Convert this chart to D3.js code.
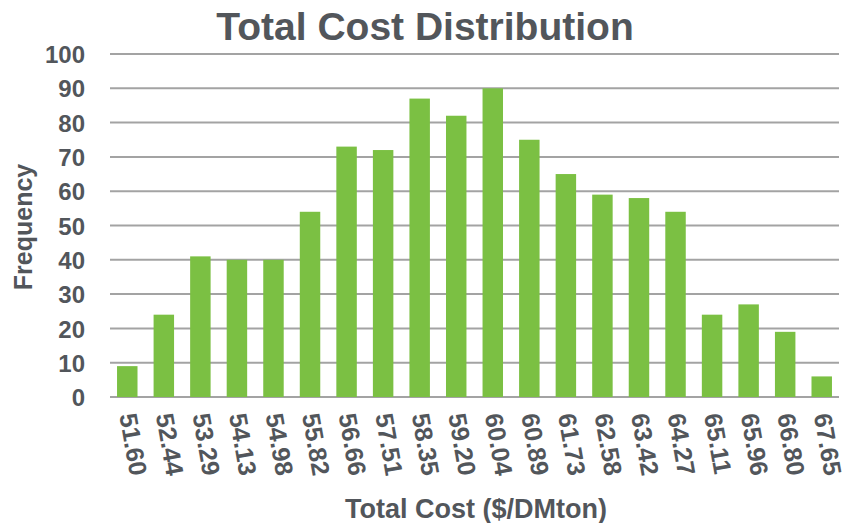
<!DOCTYPE html>
<html>
<head>
<meta charset="utf-8">
<script src="https://cdn.jsdelivr.net/npm/d3@7"></script>
<style>
  body { margin: 0; background: #fff; }
  text { font-family: "Liberation Sans", Arial, sans-serif; font-weight: bold; fill: #52565b; }
</style>
</head>
<body>
<div id="chart"></div>
<script>
// histogram bins and counts
var binLabels = ['51.60', '52.44', '53.29', '54.13', '54.98', '55.82', '56.66', '57.51', '58.35', '59.20',
                 '60.04', '60.89', '61.73', '62.58', '63.42', '64.27', '65.11', '65.96', '66.80', '67.65'];
var frequency = [9, 24, 41, 40, 40, 54, 73, 72, 87, 82, 90, 75, 65, 59, 58, 54, 24, 27, 19, 6];
var yTicks = [0, 10, 20, 30, 40, 50, 60, 70, 80, 90, 100];

var width = 848, height = 523;
var plot = {left: 109, right: 840, top: 54, bottom: 397};

var svg = d3.select('#chart')
  .append('svg')
    .attr('width', width)
    .attr('height', height);

// scales
var x = d3.scaleBand()
  .domain(binLabels)
  .range([plot.left, plot.right])
  .paddingInner(0.44)
  .paddingOuter(0.22);

var y = d3.scaleLinear()
  .domain([0, 100])
  .range([plot.bottom, plot.top]);

// gridlines
svg.append('g')
  .selectAll('line')
  .data(yTicks)
  .enter()
  .append('line')
    .attr('x1', plot.left + 1)
    .attr('x2', plot.right - 1)
    .attr('y1', function(d) { return y(d); })
    .attr('y2', function(d) { return y(d); })
    .attr('stroke', '#a3a3a3')
    .attr('stroke-width', 2);

// y axis labels
var yAxis = svg.append('g')
  .attr('transform', 'translate(' + (plot.left - 24) + ',0)')
  .call(d3.axisLeft(y).tickValues(yTicks).tickSize(0).tickPadding(0));
yAxis.select('.domain').remove();
yAxis.selectAll('text')
  .attr('font-size', 24)
  .attr('dy', '0.36em')
  .style('font-family', '"Liberation Sans", Arial, sans-serif')
  .style('font-weight', 'bold')
  .style('fill', '#52565b');

// bars
svg.append('g')
  .selectAll('rect')
  .data(frequency)
  .enter()
  .append('rect')
    .attr('x', function(d, i) { return x(binLabels[i]); })
    .attr('y', function(d) { return y(d); })
    .attr('width', x.bandwidth())
    .attr('height', function(d) { return y(0) - y(d); })
    .attr('fill', '#7bc043');

// x axis labels (slanted, nearly vertical)
svg.append('g')
  .selectAll('text')
  .data(binLabels)
  .enter()
  .append('text')
    .attr('transform', function(d) {
      return 'translate(' + (x(d) + x.bandwidth() / 2 - 8) + ',415) rotate(80)';
    })
    .attr('text-anchor', 'start')
    .attr('font-size', 25)
    .text(function(d) { return d; });

// title
svg.append('text')
  .attr('x', 425)
  .attr('y', 40)
  .attr('text-anchor', 'middle')
  .attr('font-size', 39)
  .text('Total Cost Distribution');

// axis titles
svg.append('text')
  .attr('transform', 'translate(32,227) rotate(-90)')
  .attr('text-anchor', 'middle')
  .attr('font-size', 25)
  .text('Frequency');

svg.append('text')
  .attr('x', 476)
  .attr('y', 518)
  .attr('text-anchor', 'middle')
  .attr('font-size', 27)
  .text('Total Cost ($/DMton)');
</script>
</body>
</html>
